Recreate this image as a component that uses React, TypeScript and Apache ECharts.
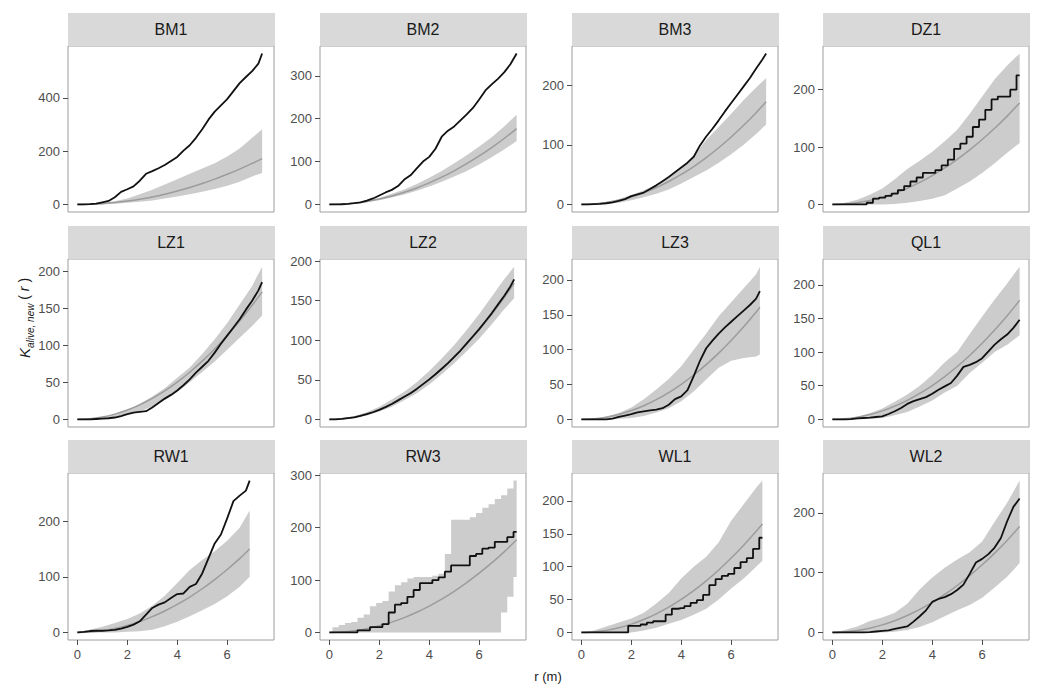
import React, { useEffect, useRef } from "react";
import * as echarts from "echarts";

const FONT = "'Liberation Sans', Arial, Helvetica, sans-serif";

const PANELS = ["BM1", "BM2", "BM3", "DZ1", "LZ1", "LZ2", "LZ3", "QL1", "RW1", "RW3", "WL1", "WL2"];
const R_MAX = [7.4, 7.5, 7.4, 7.5, 7.4, 7.4, 7.15, 7.5, 6.9, 7.5, 7.25, 7.5];
const THEO_END = [172, 177, 172, 177, 172, 172, 161, 177, 150, 177, 165, 177];
// theoretical curve read at r = 0, 0.5, 1, ... 7.5
const THEO = [0, 0.8, 3.1, 7.1, 12.6, 19.6, 28.3, 38.5, 50.3, 63.6, 78.5, 95.0, 113.1, 132.7, 153.9, 176.7];
const X_TICKS = [0, 2, 4, 6];
const Y_TICKS = [
  [0, 200, 400],
  [0, 100, 200, 300],
  [0, 100, 200],
  [0, 100, 200],
  [0, 50, 100, 150, 200],
  [0, 50, 100, 150, 200],
  [0, 50, 100, 150, 200],
  [0, 50, 100, 150, 200],
  [0, 100, 200],
  [0, 100, 200, 300],
  [0, 50, 100, 150, 200],
  [0, 100, 200],
];
const STEPPED = [false, false, false, true, false, false, false, false, false, true, true, false];
const OBS_STEP = 0.25;
const ENV_STEP = [0.5, 0.5, 0.5, 0.5, 0.5, 0.5, 0.5, 0.5, 0.5, 0.25, 0.5, 0.5];

// observed K (r step 0.25, last point at R_MAX)
const OBS_BM1 = [0, 0, 1, 3, 8, 13, 27, 47, 57, 68, 89, 115, 125, 136, 148, 163, 178, 202, 222, 250, 282, 318, 348, 372, 395, 425, 455, 478, 500, 528, 566];
const OBS_BM2 = [0, 0, 0.5, 1.5, 3, 5, 9, 14, 21, 28, 34, 43, 58, 68, 84, 100, 111, 130, 158, 172, 182, 196, 210, 225, 245, 266, 280, 293, 308, 327, 352];
const OBS_BM3 = [0, 0, 0.5, 1, 2, 3.5, 6, 9, 14, 17, 20, 26, 32, 39, 46, 54, 62, 70, 80, 99, 114, 127, 141, 156, 170, 184, 198, 212, 228, 243, 253];
const OBS_DZ1 = [0, 0, 0, 0, 0, 0, 3, 10, 12, 15, 19, 25, 32, 40, 47, 55, 55, 60, 68, 78, 97, 106, 118, 135, 148, 165, 183, 188, 188, 200, 225];
const OBS_LZ1 = [0, 0, 0, 0.5, 1, 1.5, 2.5, 4.5, 7, 9, 10, 11, 16, 22, 28, 33, 39, 46, 54, 63, 71, 79, 90, 102, 113, 124, 135, 148, 160, 174, 185];
const OBS_LZ2 = [0, 0, 0.5, 1.5, 2.5, 4.5, 6.5, 9, 12, 15.5, 19.5, 24, 28.5, 33, 38.5, 44.5, 50.5, 57, 64, 71, 79, 87, 96, 105, 114, 124, 134, 145, 156, 168, 177];
const OBS_LZ3 = [0, 0, 0, 0, 0, 1, 3.5, 5.5, 7.5, 10, 11.5, 13, 14, 16, 21, 29, 33, 42, 62, 84, 102, 113, 123, 132, 140, 148, 156, 164, 173, 184];
const OBS_QL1 = [0, 0, 0, 0.5, 1.5, 2, 2.5, 3.5, 4.5, 8, 12, 17, 23, 27, 30, 33, 38, 44, 49, 54, 65, 78, 81, 85, 91, 101, 111, 119, 126, 136, 148];
const OBS_RW1 = [0, 1, 2.5, 3, 3, 3.5, 4.5, 7, 10, 14, 20, 32, 44, 50, 54, 62, 69, 70, 82, 87, 106, 133, 160, 176, 205, 236, 246, 255, 273];
const OBS_RW3 = [0, 0, 0, 0, 0, 4, 4, 10, 10, 16, 38, 53, 56, 68, 81, 94, 94, 100, 105, 116, 128, 128, 128, 146, 150, 160, 162, 173, 173, 182, 192];
const OBS_WL1 = [0, 0, 0, 0, 0, 0, 0, 0, 10, 10, 12, 15, 17, 17, 27, 36, 37, 40, 45, 49, 57, 72, 81, 86, 89, 98, 107, 113, 127, 144];
const OBS_WL2 = [0, 0, 0, 0, 0, 0, 0.5, 1.5, 2.5, 3.5, 6, 8, 10, 18, 27, 37, 51, 56, 59, 64, 71, 80, 98, 117, 123, 131, 142, 158, 186, 210, 224];

// envelope upper / lower (r step ENV_STEP, last point at R_MAX)
const HI_BM1 = [0, 2, 6, 12, 22, 38, 55, 75, 95, 115, 135, 155, 180, 210, 250, 282];
const LO_BM1 = [0, 0, 1, 3, 6, 10, 15, 22, 30, 38, 48, 58, 70, 85, 105, 118];
const HI_BM2 = [0, 1, 4, 8, 15, 25, 35, 48, 62, 78, 96, 115, 135, 157, 182, 209];
const LO_BM2 = [0, 0, 2, 5, 10, 16, 23, 32, 42, 53, 65, 78, 93, 110, 128, 148];
const HI_BM3 = [0, 1, 4, 9, 16, 24, 33, 44, 60, 82, 108, 130, 152, 175, 196, 212];
const LO_BM3 = [0, 0, 1, 3, 7, 12, 18, 25, 35, 46, 57, 70, 84, 100, 118, 134];
const HI_DZ1 = [0, 3, 8, 17, 28, 44, 62, 76, 92, 110, 130, 158, 188, 218, 242, 263];
const LO_DZ1 = [0, 0, 0, 0, 0, 1, 3, 6, 10, 16, 28, 40, 55, 72, 90, 107];
const HI_LZ1 = [0, 1, 3, 7, 13, 21, 31, 42, 56, 70, 88, 108, 130, 155, 180, 206];
const LO_LZ1 = [0, 0, 1, 3, 6, 11, 17, 26, 37, 50, 64, 78, 94, 110, 126, 140];
const HI_LZ2 = [0, 1, 4, 9, 16, 25, 35, 47, 61, 77, 94, 113, 133, 155, 177, 193];
const LO_LZ2 = [0, 0, 2, 5, 10, 16, 24, 33, 44, 57, 71, 86, 102, 120, 139, 153];
const HI_LZ3 = [0, 1, 4, 9, 17, 29, 43, 58, 76, 100, 123, 148, 168, 188, 208, 219];
const LO_LZ3 = [0, 0, 0, 1, 2, 5, 10, 16, 26, 40, 57, 74, 84, 88, 90, 93];
const HI_QL1 = [0, 1, 4, 9, 16, 26, 37, 50, 66, 85, 100, 127, 153, 178, 202, 227];
const LO_QL1 = [0, 0, 0, 1, 2, 6, 11, 19, 28, 40, 50, 69, 84, 100, 111, 125];
const HI_RW1 = [0, 5, 10, 17, 24, 34, 48, 66, 89, 112, 130, 146, 165, 188, 219];
const LO_RW1 = [0, 0, 0, 0, 1, 2, 5, 11, 19, 29, 40, 51, 65, 82, 100];
const HI_RW3 = [0, 10, 14, 18, 20, 28, 34, 50, 56, 60, 78, 90, 96, 103, 106, 106, 106, 108, 112, 150, 215, 215, 215, 220, 228, 238, 245, 255, 262, 275, 290];
const LO_RW3 = [0, 0, 0, 0, 0, 0, 0, 0, 0, 0, 0, 0, 0, 0, 0, 0, 0, 0, 0, 0, 0, 0, 0, 0, 0, 0, 0, 0, 38, 68, 106];
const HI_WL1 = [0, 3, 9, 15, 21, 30, 44, 60, 82, 100, 115, 137, 170, 195, 220, 231];
const LO_WL1 = [0, 0, 0, 0, 0, 3, 7, 13, 19, 27, 36, 50, 67, 82, 100, 109];
const HI_WL2 = [0, 4, 10, 19, 25, 33, 48, 72, 92, 108, 122, 134, 152, 185, 217, 254];
const LO_WL2 = [0, 0, 0, 0, 0, 1, 4, 9, 17, 27, 37, 46, 58, 75, 93, 116];

const OBS = [OBS_BM1, OBS_BM2, OBS_BM3, OBS_DZ1, OBS_LZ1, OBS_LZ2, OBS_LZ3, OBS_QL1, OBS_RW1, OBS_RW3, OBS_WL1, OBS_WL2];
const HI = [HI_BM1, HI_BM2, HI_BM3, HI_DZ1, HI_LZ1, HI_LZ2, HI_LZ3, HI_QL1, HI_RW1, HI_RW3, HI_WL1, HI_WL2];
const LO = [LO_BM1, LO_BM2, LO_BM3, LO_DZ1, LO_LZ1, LO_LZ2, LO_LZ3, LO_QL1, LO_RW1, LO_RW3, LO_WL1, LO_WL2];

// layout (pixels)
const COL_LEFT = [68, 320, 572, 823];
const ROW_TOP = [46, 259, 473];
const ROW_H = [166, 168, 167];
const PANEL_W = 206;
const STRIP_H = 33;

const BAND = "#cccccc";
const THEO_COLOR = "#9c9c9c";
const OBS_COLOR = "#111111";
const LABEL_COLOR = "#4d4d4d";

function toPairs(vals: number[], step: number, rMax: number): number[][] {
  return vals.map((v, i) => [Math.min(i * step, rMax), v]);
}

function stairs(pts: number[][]): number[][] {
  const out: number[][] = [pts[0]];
  for (let i = 1; i < pts.length; i++) {
    const [x0, y0] = pts[i - 1];
    const [x1, y1] = pts[i];
    const m = (x0 + x1) / 2;
    out.push([m, y0], [m, y1], [x1, y1]);
  }
  return out;
}

export default function App() {
  const ref = useRef<HTMLDivElement>(null);

  useEffect(() => {
    if (!ref.current) return;
    const chart = echarts.init(ref.current, undefined, { renderer: "svg" });

    const grids: any[] = [];
    const xAxes: any[] = [];
    const yAxes: any[] = [];
    const series: any[] = [];
    const graphics: any[] = [];

    PANELS.forEach((name, p) => {
      const row = Math.floor(p / 4);
      const col = p % 4;
      const left = COL_LEFT[col];
      const top = ROW_TOP[row];
      const h = ROW_H[row];
      const bottomRow = row === 2;
      const rMax = R_MAX[p];

      const obs = toPairs(OBS[p], OBS_STEP, rMax);
      const hi = toPairs(HI[p], ENV_STEP[p], rMax);
      const lo = toPairs(LO[p], ENV_STEP[p], rMax);
      const theo: number[][] = [];
      THEO.forEach((v, i) => {
        const r = i * 0.5;
        if (r < rMax - 1e-9) theo.push([r, v]);
      });
      theo.push([rMax, THEO_END[p]]);

      const m = Math.max(...OBS[p], ...HI[p]);

      grids.push({
        left,
        top,
        width: PANEL_W,
        height: h,
        show: true,
        backgroundColor: "#ffffff",
        borderColor: "#9e9e9e",
        borderWidth: 1,
        containLabel: false,
      });

      xAxes.push({
        type: "value",
        gridIndex: p,
        min: -0.375,
        max: 7.875,
        splitLine: { show: false },
        axisLine: { show: false, onZero: false },
        axisTick: {
          show: bottomRow,
          length: 5,
          customValues: X_TICKS,
          lineStyle: { color: LABEL_COLOR, width: 1 },
        },
        axisLabel: {
          show: bottomRow,
          customValues: X_TICKS,
          margin: 8,
          fontSize: 13,
          color: LABEL_COLOR,
          fontFamily: FONT,
        },
      });

      yAxes.push({
        type: "value",
        gridIndex: p,
        min: -0.05 * m,
        max: 1.05 * m,
        splitLine: { show: false },
        axisLine: { show: false, onZero: false },
        axisTick: {
          show: true,
          length: 5,
          customValues: Y_TICKS[p],
          lineStyle: { color: LABEL_COLOR, width: 1 },
        },
        axisLabel: {
          customValues: Y_TICKS[p],
          margin: 8,
          fontSize: 13,
          color: LABEL_COLOR,
          fontFamily: FONT,
        },
      });

      const bandUpper = STEPPED[p] && ENV_STEP[p] < 0.5 ? stairs(hi) : hi;
      const bandLower = STEPPED[p] && ENV_STEP[p] < 0.5 ? stairs(lo) : lo;

      series.push({
        type: "custom",
        name: name + " envelope",
        xAxisIndex: p,
        yAxisIndex: p,
        data: [[0, 0]],
        silent: true,
        z: 1,
        renderItem: (_params: any, api: any) => {
          const pts: number[][] = [];
          bandUpper.forEach((d) => pts.push(api.coord(d)));
          for (let i = bandLower.length - 1; i >= 0; i--) pts.push(api.coord(bandLower[i]));
          return {
            type: "polygon",
            shape: { points: pts },
            style: { fill: BAND, stroke: null },
          };
        },
      });

      series.push({
        type: "line",
        name: name + " theo",
        xAxisIndex: p,
        yAxisIndex: p,
        data: theo,
        symbol: "none",
        showSymbol: false,
        smooth: 0.3,
        z: 2,
        lineStyle: { color: THEO_COLOR, width: 1.5 },
        silent: true,
      });

      series.push({
        type: "line",
        name: name + " obs",
        xAxisIndex: p,
        yAxisIndex: p,
        data: obs,
        symbol: "none",
        showSymbol: false,
        step: STEPPED[p] ? "middle" : false,
        z: 3,
        lineStyle: { color: OBS_COLOR, width: 1.8 },
        silent: true,
      });

      graphics.push({
        type: "rect",
        shape: { x: left, y: top - STRIP_H, width: PANEL_W + 1, height: STRIP_H },
        style: { fill: "#d9d9d9" },
        silent: true,
      });
      graphics.push({
        type: "text",
        x: left + PANEL_W / 2,
        y: top - STRIP_H / 2,
        style: {
          text: name,
          align: "center",
          verticalAlign: "middle",
          fontSize: 16,
          fontFamily: FONT,
          fill: "#1a1a1a",
        },
        silent: true,
      });
    });

    graphics.push({
      type: "text",
      x: 24,
      y: 318,
      rotation: Math.PI / 2,
      style: {
        text: "{k|K}{s|alive, new}{n| ( }{r|r}{n| )}",
        align: "center",
        verticalAlign: "middle",
        fill: "#1a1a1a",
        rich: {
          k: { fontSize: 15, fontStyle: "italic", fontFamily: FONT, fill: "#1a1a1a", lineHeight: 22, verticalAlign: "middle" },
          s: { fontSize: 10, fontStyle: "italic", fontFamily: FONT, fill: "#1a1a1a", lineHeight: 10, verticalAlign: "bottom" },
          n: { fontSize: 14, fontFamily: FONT, fill: "#1a1a1a", lineHeight: 22, verticalAlign: "middle" },
          r: { fontSize: 14, fontStyle: "italic", fontFamily: FONT, fill: "#1a1a1a", lineHeight: 22, verticalAlign: "middle" },
        },
      },
      silent: true,
    });

    graphics.push({
      type: "text",
      x: 548,
      y: 676,
      style: {
        text: "r (m)",
        align: "center",
        verticalAlign: "middle",
        fontSize: 13,
        fontFamily: FONT,
        fill: "#1a1a1a",
      },
      silent: true,
    });

    chart.setOption({
      animation: false,
      backgroundColor: "#ffffff",
      textStyle: { fontFamily: FONT },
      grid: grids,
      xAxis: xAxes,
      yAxis: yAxes,
      series,
      graphic: graphics,
    });

    return () => {
      chart.dispose();
    };
  }, []);

  return (
    <div
      ref={ref}
      style={{ position: "absolute", left: 0, top: 0, width: 1041, height: 694, background: "#ffffff" }}
    />
  );
}
